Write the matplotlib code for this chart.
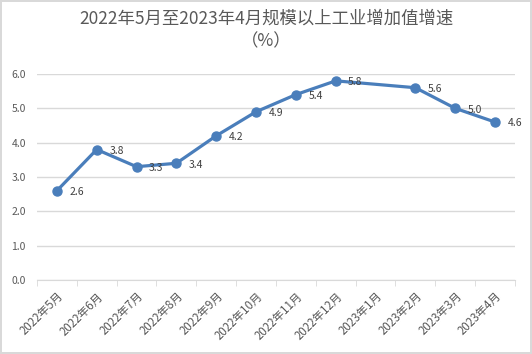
import numpy as np
import matplotlib
matplotlib.use("Agg")
from matplotlib import pyplot as plt

plt.rcParams['font.family'] = ['Noto Sans CJK SC', 'DejaVu Sans']

months = ["2022年5月", "2022年6月", "2022年7月", "2022年8月", "2022年9月", "2022年10月",
          "2022年11月", "2022年12月", "2023年1月", "2023年2月", "2023年3月", "2023年4月"]
growth = [2.6, 3.8, 3.3, 3.4, 4.2, 4.9, 5.4, 5.8, None, 5.6, 5.0, 4.6]

blue = "#4a7ebb"
txt = "#595959"

fig = plt.figure(figsize=(5.32, 3.54), dpi=100)
fig.patch.set_edgecolor("#d9d9d9")
fig.patch.set_linewidth(1.5)
ax = fig.add_axes([0.0695, 0.209, 0.8985, 0.582])

# skip the missing month, line joins across it
xs = [i for i, v in enumerate(growth) if v is not None]
ys = [v for v in growth if v is not None]
ax.plot(xs, ys, color=blue, lw=2.3, marker="o", ms=6.5, zorder=3)
for x, y in zip(xs, ys):
    ax.annotate("%.1f" % y, (x, y), xytext=(9, -1), textcoords="offset points",
                fontsize=7.5, color="#404040", va="center", ha="left")

ax.set_xlim(-0.5, len(months) - 0.5)
ax.set_ylim(0, 6)
ax.set_yticks(np.arange(0, 6.1, 1))
ax.set_yticklabels(["%.1f" % v for v in np.arange(0, 6.1, 1)])
ax.yaxis.grid(True, color="#d9d9d9", lw=1)
ax.set_axisbelow(True)

ax.set_xticks(range(len(months)))
ax.set_xticklabels(months, rotation=45, ha="right", rotation_mode="anchor")
ax.set_xticks(np.arange(-0.5, len(months)), minor=True)
ax.tick_params(axis="x", which="major", length=0, pad=7, labelsize=8.3, colors=txt)
ax.tick_params(axis="x", which="minor", length=4, color="#d9d9d9")
ax.tick_params(axis="y", length=0, labelsize=7.5, colors=txt, pad=8)

for s in ["top", "right", "left"]:
    ax.spines[s].set_visible(False)
ax.spines["bottom"].set_color("#d9d9d9")

fig.text(0.5, 0.948, "2022年5月至2023年4月规模以上工业增加值增速", ha="center", va="center",
         fontsize=12.5, color=txt)
fig.text(0.5, 0.884, "（%）", ha="center", va="center", fontsize=12.5, color=txt)

fig.savefig("out.png", dpi=100, edgecolor=fig.get_edgecolor())
